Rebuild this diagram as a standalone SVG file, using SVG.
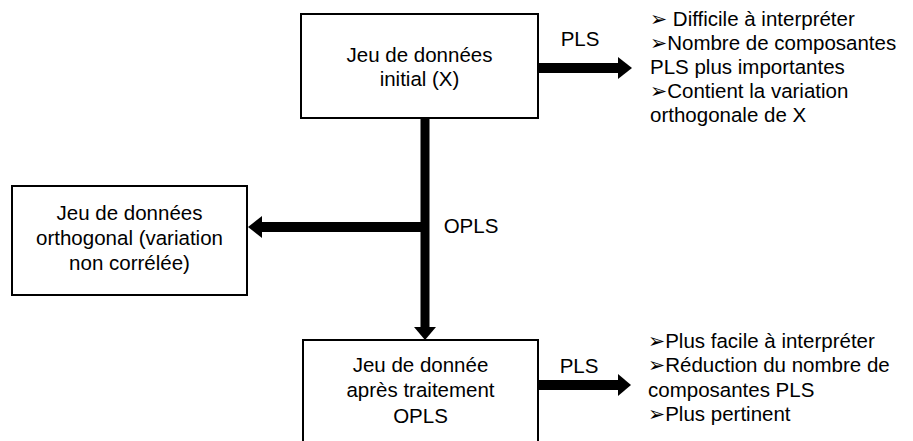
<svg xmlns="http://www.w3.org/2000/svg" width="913" height="441" viewBox="0 0 913 441">
<style>
.box{fill:#fff;stroke:#000;stroke-width:2}
.t{font-family:"Liberation Sans","DejaVu Sans",sans-serif;font-size:20.5px;fill:#000}
.c{text-anchor:middle}
.conn{fill:#000;stroke:none}
</style>
<rect width="913" height="441" fill="#fff"/>
<g id="connectors">
<rect class="conn" x="538" y="63" width="81" height="10"/>
<polygon class="conn" points="618,57 632,68 618,79"/>
<rect class="conn" x="420.5" y="118" width="9" height="210"/>
<polygon class="conn" points="414,327 436,327 425,340"/>
<rect class="conn" x="261" y="222" width="160" height="10"/>
<polygon class="conn" points="262,216 248,227 262,238"/>
<rect class="conn" x="538" y="380" width="81" height="10"/>
<polygon class="conn" points="618,374 631,385 618,396"/>
<text class="t c" x="580" y="46">PLS</text>
<text class="t c" x="471" y="233">OPLS</text>
<text class="t c" x="579" y="373">PLS</text>
</g>
<g id="initial">
<rect class="box" x="301" y="14" width="237" height="104"/>
<text class="t c" x="419.5" y="62">Jeu de données</text>
<text class="t c" x="419.5" y="86">initial (X)</text>
</g>
<g id="orthogonal">
<rect class="box" x="12" y="186" width="235" height="109"/>
<text class="t c" x="129.5" y="220">Jeu de données</text>
<text class="t c" x="129.5" y="245">orthogonal (variation</text>
<text class="t c" x="129.5" y="270">non corrélée)</text>
</g>
<g id="traite">
<rect class="box" x="303" y="340" width="235" height="110"/>
<text class="t c" x="420.5" y="372">Jeu de donnée</text>
<text class="t c" x="420.5" y="397">après traitement</text>
<text class="t c" x="420.5" y="423">OPLS</text>
</g>
<g id="notes-pls">
<text class="t" x="650" y="26">➢ Difficile à interpréter</text>
<text class="t" x="650" y="50">➢Nombre de composantes</text>
<text class="t" x="650" y="74">PLS plus importantes</text>
<text class="t" x="650" y="98">➢Contient la variation</text>
<text class="t" x="650" y="122">orthogonale de X</text>
</g>
<g id="notes-opls">
<text class="t" x="648" y="348">➢Plus facile à interpréter</text>
<text class="t" x="648" y="372">➢Réduction du nombre de</text>
<text class="t" x="648" y="397">composantes PLS</text>
<text class="t" x="648" y="421">➢Plus pertinent</text>
</g>
</svg>
